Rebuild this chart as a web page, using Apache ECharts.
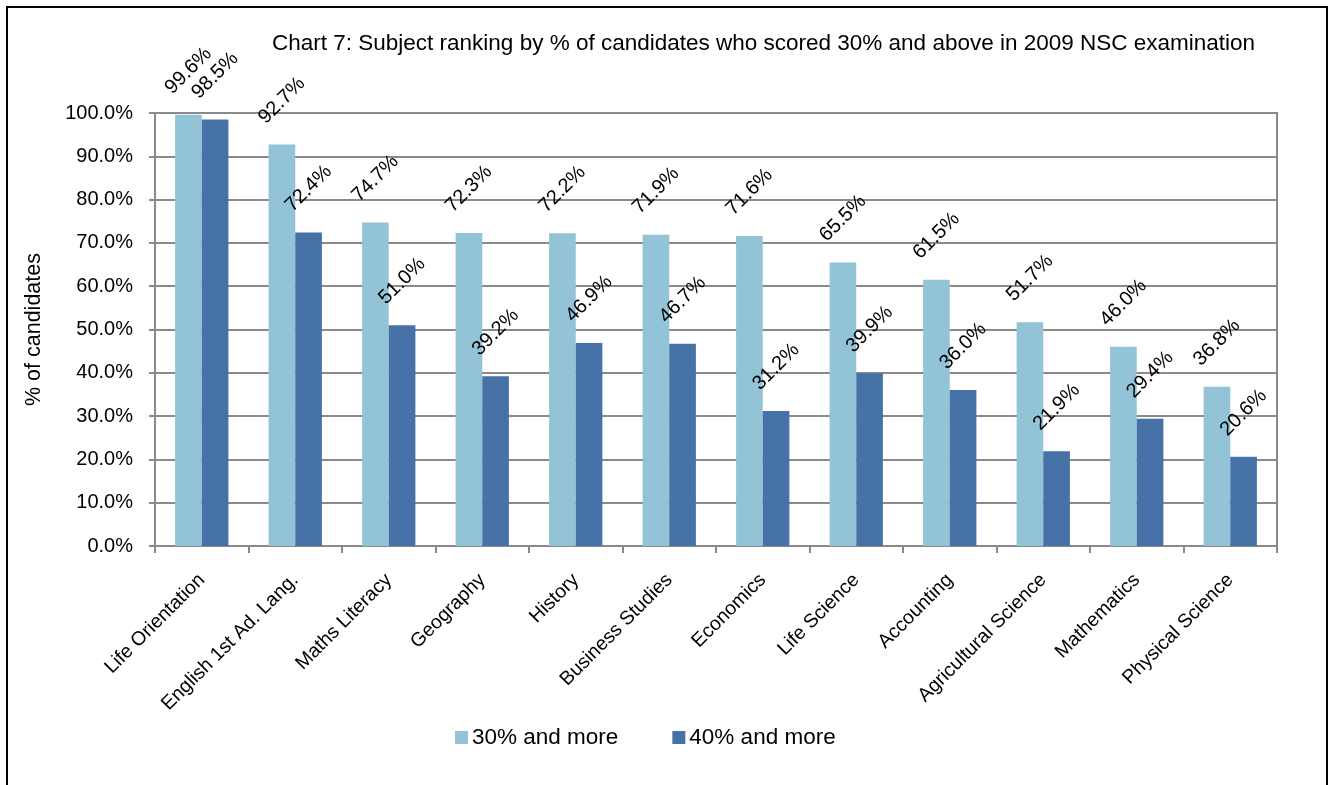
<!DOCTYPE html>
<html>
<head>
<meta charset="utf-8">
<script src="https://cdn.jsdelivr.net/npm/echarts@6/dist/echarts.min.js"></script>
<style>
html,body{margin:0;padding:0;background:#fff;}
#chart{width:1330px;height:785px;}
</style>
</head>
<body>
<div id="chart"></div>
<script>
const titleText = 'Chart 7: Subject ranking by % of candidates who scored 30% and above in 2009 NSC examination';
const yAxisName = '% of candidates';
const categories = ['Life Orientation','English 1st Ad. Lang.','Maths Literacy','Geography','History','Business Studies','Economics','Life Science','Accounting','Agricultural Science','Mathematics','Physical Science'];
const seriesNames = ['30% and more','40% and more'];
const scored30 = [99.6, 92.7, 74.7, 72.3, 72.2, 71.9, 71.6, 65.5, 61.5, 51.7, 46.0, 36.8];
const scored40 = [98.5, 72.4, 51.0, 39.2, 46.9, 46.7, 31.2, 39.9, 36.0, 21.9, 29.4, 20.6];

const FONT = '"Liberation Sans", Arial, sans-serif';
const chart = echarts.init(document.getElementById('chart'), null, {renderer:'canvas'});
const labelCfg = {
  show: true,
  position: 'top',
  distance: 44,
  rotate: 45,
  align: 'center',
  verticalAlign: 'middle',
  color: '#000',
  fontSize: 20,
  fontFamily: FONT,
  formatter: p => p.value.toFixed(1) + '%'
};
chart.setOption({
  animation: false,
  textStyle: {fontFamily: FONT},
  graphic: [{
    type: 'rect',
    shape: {x: 7, y: 7, width: 1320, height: 800},
    style: {fill: 'none', stroke: '#000', lineWidth: 2},
    silent: true
  }],
  title: {
    text: titleText,
    left: 267,
    top: 27,
    textStyle: {fontSize: 22.5, fontWeight: 'normal', color: '#000', fontFamily: FONT}
  },
  legend: {
    data: seriesNames,
    left: 450,
    top: 721,
    icon: 'rect',
    itemWidth: 13,
    itemHeight: 13,
    itemGap: 54,
    textStyle: {fontSize: 22.5, color: '#000', fontFamily: FONT, padding: [0,0,0,-1]}
  },
  grid: {
    left: 155, right: 53, top: 113, bottom: 239,
    show: true, borderColor: '#8a8a8a', borderWidth: 2, backgroundColor: 'transparent'
  },
  xAxis: {
    type: 'category',
    data: categories,
    axisLine: {lineStyle: {color: '#8a8a8a', width: 2}},
    axisTick: {show: true, alignWithLabel: false, length: 7, lineStyle: {color: '#8a8a8a', width: 2}},
    axisLabel: {rotate: 45, interval: 0, margin: 31, fontSize: 19.5, color: '#000', fontFamily: FONT}
  },
  yAxis: {
    type: 'value',
    min: 0, max: 100, interval: 10,
    name: yAxisName,
    nameLocation: 'middle',
    nameGap: 110,
    nameTextStyle: {fontSize: 21.5, color: '#000', fontFamily: FONT},
    axisLine: {show: true, lineStyle: {color: '#8a8a8a', width: 2}},
    axisTick: {show: true, length: 6, lineStyle: {color: '#8a8a8a', width: 2}},
    splitLine: {lineStyle: {color: '#8a8a8a', width: 2}},
    axisLabel: {margin: 22, fontSize: 20, color: '#000', fontFamily: FONT, formatter: v => v.toFixed(1) + '%'}
  },
  series: [
    {name: seriesNames[0], type: 'bar', data: scored30, barGap: '0%', barCategoryGap: '43%',
     itemStyle: {color: '#93C3D6'}, label: labelCfg},
    {name: seriesNames[1], type: 'bar', data: scored40, barGap: '0%', barCategoryGap: '43%',
     itemStyle: {color: '#4672A7'}, label: labelCfg}
  ]
});
</script>
</body>
</html>
